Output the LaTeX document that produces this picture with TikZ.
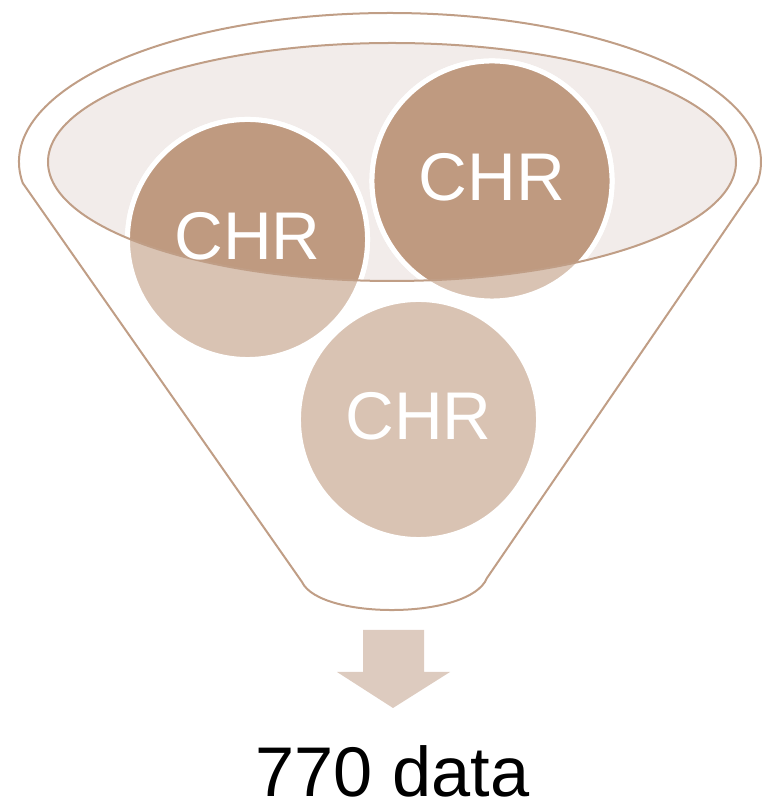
\documentclass[tikz,border=0pt]{standalone}
\usepackage{fontspec}
\setmainfont{Liberation Sans}
\definecolor{funline}{RGB}{192,158,134}
\definecolor{topfill}{RGB}{242,236,234}
\definecolor{chrdark}{RGB}{191,154,128}
\definecolor{chrlight}{RGB}{217,195,179}
\definecolor{arrowfill}{RGB}{221,203,191}
\begin{document}
\begin{tikzpicture}[x=0.025cm, y=0.025cm,
  ball/.style={circle, draw=white, line width=0.125cm, minimum size=6cm, inner sep=0pt},
  balltext/.style={text=white, yshift=0.09cm, inner sep=0pt, font=\fontsize{48}{48}\selectfont}]
\useasboundingbox (0,0) rectangle (762,803);
\begin{scope}
\draw[funline, line width=0.05cm] (390,641) ++(188.1:371 and 149)
  arc[start angle=188.1, end angle=-8.1, x radius=371, y radius=149]
  -- (487,225) .. controls (470,183) and (320,183) .. (302,221) -- cycle;
\fill[topfill] (392,641) ellipse [x radius=344, y radius=119];
\node[ball, fill=chrlight] (lc) at (247.5,563.5) {};
\node[ball, fill=chrlight] (rc) at (492,622) {};
\node[ball, fill=chrlight] (bc) at (418.5,383.5) {};
\end{scope}
\begin{scope}
\clip (392,641) ellipse [x radius=344, y radius=119];
\node[ball, fill=chrdark] at (lc) {};
\node[ball, fill=chrdark] at (rc) {};
\end{scope}
\draw[funline, line width=0.05cm] (392,641) ellipse [x radius=344, y radius=119];
\node[balltext] at (lc) {CHR};
\node[balltext] at (rc) {CHR};
\node[balltext] at (bc) {CHR};

\fill[arrowfill] (363,173) -- (424,173) -- (424,131) -- (450,131) -- (393,95)
  -- (337,131) -- (363,131) -- cycle;
\node[anchor=base, inner sep=0pt, font=\fontsize{50}{50}\selectfont] (res) at (392.5,6) {770 data};
\end{tikzpicture}
\end{document}
